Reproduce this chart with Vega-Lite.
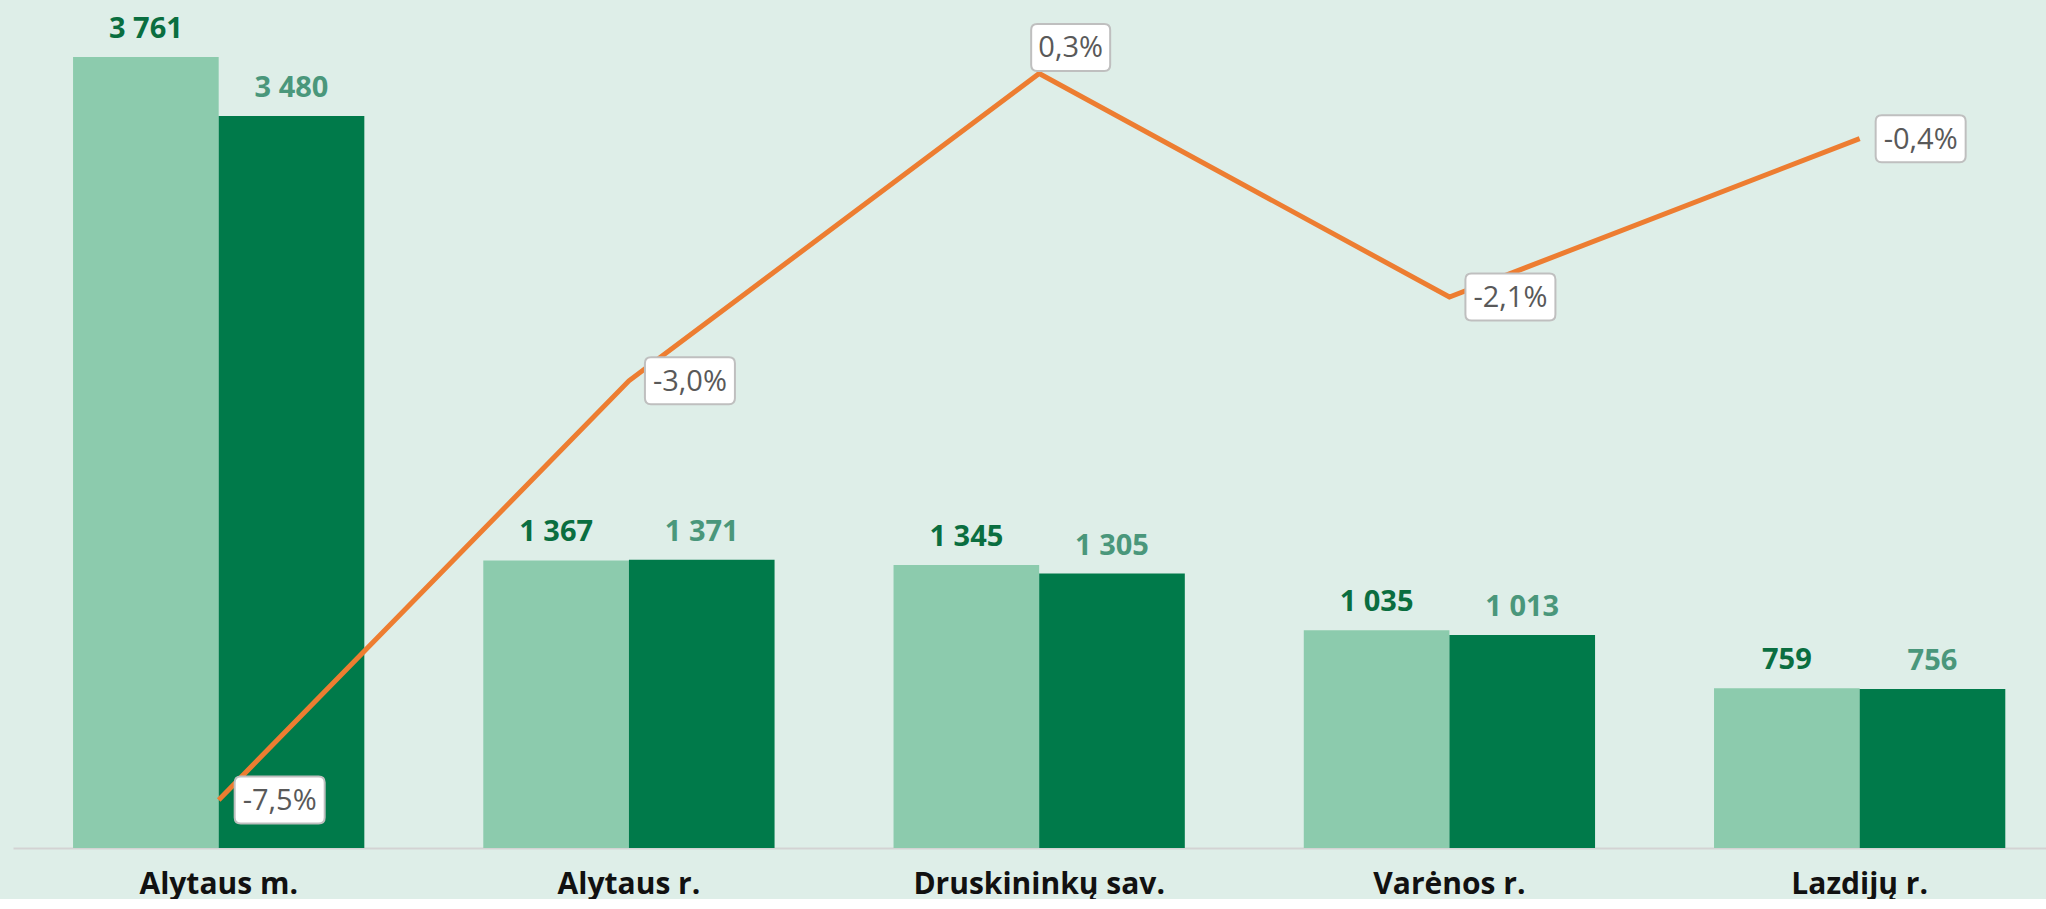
{
  "$schema": "https://vega.github.io/schema/vega-lite/v6.json",
  "width": 2033,
  "height": 848,
  "padding": {"left": 13, "top": 0, "right": 0, "bottom": 0},
  "background": "#DEEEE8",
  "config": {
    "view": {"stroke": null},
    "locale": {
      "number": {"decimal": ",", "thousands": " ", "grouping": [3], "currency": ["", " €"], "minus": "-", "percent": "%"}
    }
  },
  "datasets": {
    "counts": [
      {"region": "Alytaus m.", "year": "2023", "value": 3761},
      {"region": "Alytaus m.", "year": "2024", "value": 3480},
      {"region": "Alytaus r.", "year": "2023", "value": 1367},
      {"region": "Alytaus r.", "year": "2024", "value": 1371},
      {"region": "Druskininkų sav.", "year": "2023", "value": 1345},
      {"region": "Druskininkų sav.", "year": "2024", "value": 1305},
      {"region": "Varėnos r.", "year": "2023", "value": 1035},
      {"region": "Varėnos r.", "year": "2024", "value": 1013},
      {"region": "Lazdijų r.", "year": "2023", "value": 759},
      {"region": "Lazdijų r.", "year": "2024", "value": 756}
    ],
    "change": [
      {"region": "Alytaus m.", "pct": -0.075},
      {"region": "Alytaus r.", "pct": -0.030},
      {"region": "Druskininkų sav.", "pct": 0.003},
      {"region": "Varėnos r.", "pct": -0.021},
      {"region": "Lazdijų r.", "pct": -0.004}
    ]
  },
  "layer": [
    {
      "data": {"name": "counts"},
      "mark": {"type": "bar"},
      "encoding": {
        "x": {
          "field": "region", "type": "nominal",
          "scale": {"domain": ["Alytaus m.", "Alytaus r.", "Druskininkų sav.", "Varėnos r.", "Lazdijų r."], "paddingInner": 0.29, "paddingOuter": 0.1228, "align": 0.596},
          "axis": {"title": null, "labelFont": "Open Sans", "labelFontWeight": "bold", "labelFontSize": 30, "labelColor": "#111111", "ticks": false, "labelPadding": 21, "labelLimit": 0, "domainColor": "#D3D3D3", "domainWidth": 2, "labelAngle": 0}
        },
        "xOffset": {"field": "year", "type": "nominal", "scale": {"paddingInner": 0, "paddingOuter": 0}},
        "y": {"field": "value", "type": "quantitative", "scale": {"domain": [0, 4032], "nice": false, "zero": true}, "axis": null},
        "color": {"field": "year", "type": "nominal", "scale": {"domain": ["2023", "2024"], "range": ["#8CCBAD", "#007A4A"]}, "legend": null}
      }
    },
    {
      "data": {"name": "counts"},
      "mark": {"type": "text", "font": "Open Sans", "fontWeight": "bold", "fontSize": 29, "baseline": "alphabetic", "align": "center", "dy": -19, "letterSpacing": 0.8},
      "encoding": {
        "x": {"field": "region", "type": "nominal", "scale": {"domain": ["Alytaus m.", "Alytaus r.", "Druskininkų sav.", "Varėnos r.", "Lazdijų r."], "paddingInner": 0.29, "paddingOuter": 0.1228, "align": 0.596}},
        "xOffset": {"field": "year", "type": "nominal", "scale": {"paddingInner": 0, "paddingOuter": 0}},
        "y": {"field": "value", "type": "quantitative", "scale": {"domain": [0, 4032], "nice": false, "zero": true}, "axis": null},
        "text": {"field": "value", "type": "quantitative", "format": ",d"},
        "color": {"condition": {"test": "datum.year == '2023'", "value": "#0A6E40"}, "value": "#4A977B"}
      }
    },
    {
      "data": {"name": "change"},
      "mark": {"type": "line", "color": "#ED7D31", "strokeWidth": 5},
      "encoding": {
        "x": {"field": "region", "type": "nominal", "scale": {"domain": ["Alytaus m.", "Alytaus r.", "Druskininkų sav.", "Varėnos r.", "Lazdijų r."], "paddingInner": 0.29, "paddingOuter": 0.1228, "align": 0.596}},
        "y": {"field": "pct", "type": "quantitative", "scale": {"domain": [-0.08016, 0.01089], "nice": false, "zero": false}, "axis": null}
      }
    },
    {
      "data": {"name": "change"},
      "transform": [{"filter": "datum.region != 'Druskininkų sav.'"}],
      "mark": {"type": "point", "filled": true, "opacity": 1, "fill": "#FFFFFF", "stroke": "#BFBFBF", "strokeWidth": 2, "size": 8100, "xOffset": 61,
        "shape": "M -0.8667 -0.5222 L 0.8667 -0.5222 Q 1 -0.5222 1 -0.3889 L 1 0.3889 Q 1 0.5222 0.8667 0.5222 L -0.8667 0.5222 Q -1 0.5222 -1 0.3889 L -1 -0.3889 Q -1 -0.5222 -0.8667 -0.5222 Z"},
      "encoding": {
        "x": {"field": "region", "type": "nominal", "scale": {"domain": ["Alytaus m.", "Alytaus r.", "Druskininkų sav.", "Varėnos r.", "Lazdijų r."], "paddingInner": 0.29, "paddingOuter": 0.1228, "align": 0.596}},
        "y": {"field": "pct", "type": "quantitative", "scale": {"domain": [-0.08016, 0.01089], "nice": false, "zero": false}, "axis": null}
      }
    },
    {
      "data": {"name": "change"},
      "transform": [{"filter": "datum.region != 'Druskininkų sav.'"}],
      "mark": {"type": "text", "font": "Open Sans", "fontSize": 29, "color": "#595959", "align": "center", "baseline": "middle", "xOffset": 61, "dy": 1},
      "encoding": {
        "x": {"field": "region", "type": "nominal", "scale": {"domain": ["Alytaus m.", "Alytaus r.", "Druskininkų sav.", "Varėnos r.", "Lazdijų r."], "paddingInner": 0.29, "paddingOuter": 0.1228, "align": 0.596}},
        "y": {"field": "pct", "type": "quantitative", "scale": {"domain": [-0.08016, 0.01089], "nice": false, "zero": false}, "axis": null},
        "text": {"field": "pct", "type": "quantitative", "format": ".1%"}
      }
    },
    {
      "data": {"name": "change"},
      "transform": [{"filter": "datum.region == 'Druskininkų sav.'"}],
      "mark": {"type": "point", "filled": true, "opacity": 1, "fill": "#FFFFFF", "stroke": "#BFBFBF", "strokeWidth": 2, "size": 6241, "xOffset": 31.5, "yOffset": -26,
        "shape": "M -0.8481 -0.5949 L 0.8481 -0.5949 Q 1 -0.5949 1 -0.443 L 1 0.443 Q 1 0.5949 0.8481 0.5949 L -0.8481 0.5949 Q -1 0.5949 -1 0.443 L -1 -0.443 Q -1 -0.5949 -0.8481 -0.5949 Z"},
      "encoding": {
        "x": {"field": "region", "type": "nominal", "scale": {"domain": ["Alytaus m.", "Alytaus r.", "Druskininkų sav.", "Varėnos r.", "Lazdijų r."], "paddingInner": 0.29, "paddingOuter": 0.1228, "align": 0.596}},
        "y": {"field": "pct", "type": "quantitative", "scale": {"domain": [-0.08016, 0.01089], "nice": false, "zero": false}, "axis": null}
      }
    },
    {
      "data": {"name": "change"},
      "transform": [{"filter": "datum.region == 'Druskininkų sav.'"}],
      "mark": {"type": "text", "font": "Open Sans", "fontSize": 29, "color": "#595959", "align": "center", "baseline": "middle", "xOffset": 31.5, "yOffset": -26, "dy": 1},
      "encoding": {
        "x": {"field": "region", "type": "nominal", "scale": {"domain": ["Alytaus m.", "Alytaus r.", "Druskininkų sav.", "Varėnos r.", "Lazdijų r."], "paddingInner": 0.29, "paddingOuter": 0.1228, "align": 0.596}},
        "y": {"field": "pct", "type": "quantitative", "scale": {"domain": [-0.08016, 0.01089], "nice": false, "zero": false}, "axis": null},
        "text": {"field": "pct", "type": "quantitative", "format": ".1%"}
      }
    }
  ],
  "resolve": {"scale": {"y": "independent"}}
}
